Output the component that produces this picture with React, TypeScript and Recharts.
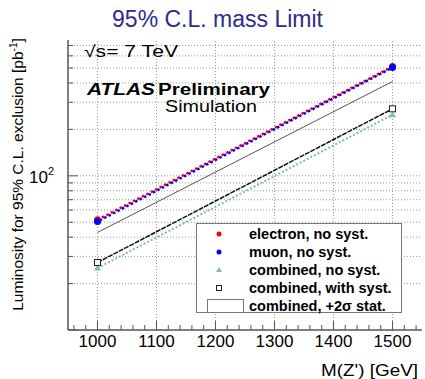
import React from 'react';
import { Legend, Line, LineChart, ReferenceLine, XAxis, YAxis } from 'recharts';

// Z' mass points [GeV]
const massPoints = [1000, 1500];
// luminosity for 95% C.L. exclusion [pb^-1]
const electronNoSyst = [51.8, 511];
const muonNoSyst = [50.5, 504];
const combinedNoSyst = [25.2, 249];
const combinedWithSyst = [27.4, 272];
const combinedTwoSigma = [42.9, 409];

const xTicks = [
  960, 980, 1000, 1020, 1040, 1060, 1080, 1100, 1120, 1140, 1160, 1180, 1200, 1220, 1240,
  1260, 1280, 1300, 1320, 1340, 1360, 1380, 1400, 1420, 1440, 1460, 1480, 1500, 1520, 1540,
];
const xLabels = [1000, 1100, 1200, 1300, 1400, 1500];
const yTicks = [10, 20, 30, 40, 50, 60, 70, 80, 90, 100, 200, 300, 400, 500, 600, 700];
const yGrid = [20, 30, 40, 50, 60, 70, 80, 90, 100, 200, 300, 400, 500, 600, 700];
const yMajor = [10, 100];
const legendOrder = ['electron', 'muon', 'combNoSyst', 'combSyst', 'twoSigma'];

const data = massPoints.map((m, i) => ({
  mass: m,
  electron: electronNoSyst[i],
  muon: muonNoSyst[i],
  combNoSyst: combinedNoSyst[i],
  combSyst: combinedWithSyst[i],
  twoSigma: combinedTwoSigma[i],
}));

const W = 425;
const H = 379;
const LEFT = 68;
const RIGHT = 422;
const TOP = 40;
const BOTTOM = 330;
const FONT = '"Liberation Sans", Arial, Helvetica, sans-serif';
const AXIS = '#555';
const GRID = '#9a9a9a';
const GREEN = '#7dbf9f';

const BottomTick = (props: any) => {
  const { x, payload } = props;
  const major = xLabels.includes(payload.value);
  return (
    <g>
      <line x1={x} x2={x} y1={BOTTOM} y2={BOTTOM - (major ? 9 : 5)} stroke={AXIS} strokeWidth={1} />
      {major && (
        <text x={x} y={347} textAnchor="middle" fontSize={17} fontFamily={FONT} fill="#000">
          {payload.value}
        </text>
      )}
    </g>
  );
};

const TopTick = (props: any) => {
  const { x, payload } = props;
  const major = xLabels.includes(payload.value);
  return <line x1={x} x2={x} y1={TOP} y2={TOP + (major ? 9 : 5)} stroke={AXIS} strokeWidth={1} />;
};

const LeftTick = (props: any) => {
  const { y, payload } = props;
  const major = yMajor.includes(payload.value);
  return (
    <g>
      <line x1={LEFT} x2={LEFT + (major ? 10 : 5)} y1={y} y2={y} stroke={AXIS} strokeWidth={1} />
      {payload.value === 100 && (
        <text x={54} y={y + 7} textAnchor="end" fontSize={17} fontFamily={FONT} fill="#000">
          10<tspan dy={-8} fontSize={11}>2</tspan>
        </text>
      )}
    </g>
  );
};

const RightTick = (props: any) => {
  const { y, payload } = props;
  const major = yMajor.includes(payload.value);
  return <line x1={RIGHT} x2={RIGHT - (major ? 10 : 5)} y1={y} y2={y} stroke={AXIS} strokeWidth={1} />;
};

const CircleDot = (color: string) => (props: any) => {
  const { cx, cy, index } = props;
  return <circle key={index} cx={cx} cy={cy} r={3.5} fill={color} />;
};

const TriangleDot = (props: any) => {
  const { cx, cy, index } = props;
  return <path key={index} d={`M${cx},${cy - 3.5} L${cx + 3.5},${cy + 2.5} L${cx - 3.5},${cy + 2.5} Z`} fill={GREEN} />;
};

const SquareDot = (props: any) => {
  const { cx, cy, index } = props;
  return <rect key={index} x={cx - 3} y={cy - 3} width={6} height={6} fill="#fff" stroke="#222" strokeWidth={1} />;
};

const legendMarker = (key: string) => {
  if (key === 'electron') return <circle cx={8} cy={8} r={2.5} fill="#ff0000" />;
  if (key === 'muon') return <circle cx={8} cy={8} r={2.5} fill="#0000ff" />;
  if (key === 'combNoSyst') return <path d="M8,5 L11,10 L5,10 Z" fill={GREEN} />;
  if (key === 'combSyst') return <rect x={5.5} y={5.5} width={5} height={5} fill="#fff" stroke="#222" />;
  return null;
};

const LegendBox = (props: any) => {
  const items = [...(props.payload || [])].sort(
    (a: any, b: any) => legendOrder.indexOf(a.dataKey) - legendOrder.indexOf(b.dataKey),
  );
  return (
    <div
      style={{
        width: 206,
        height: 90,
        boxSizing: 'border-box',
        border: '1px solid #777',
        background: '#fff',
        paddingTop: 1,
        fontFamily: FONT,
        fontWeight: 'bold',
        fontSize: 14.5,
      }}
    >
      {items.map((item: any) => (
        <div key={item.dataKey} style={{ height: 18, display: 'flex', alignItems: 'center' }}>
          <div style={{ width: 52, display: 'flex', justifyContent: 'center' }}>
            {item.dataKey === 'twoSigma' ? (
              <div style={{ width: 35, height: 12, border: '1px solid #777', marginLeft: 4 }} />
            ) : (
              <svg width={16} height={16} style={{ marginLeft: -8 }}>
                {legendMarker(item.dataKey)}
              </svg>
            )}
          </div>
          <span style={{ color: '#000', whiteSpace: 'nowrap' }}>{item.value}</span>
        </div>
      ))}
    </div>
  );
};

export default function App() {
  return (
    <div style={{ position: 'absolute', left: 0, top: 0, width: W, height: H, background: '#fff' }}>
      <LineChart width={W} height={H} data={data} margin={{ top: TOP, right: W - RIGHT, bottom: 0, left: 18 }}>
        <XAxis
          dataKey="mass"
          type="number"
          domain={[950, 1550]}
          allowDataOverflow
          ticks={xTicks}
          interval={0}
          tickLine={false}
          axisLine={{ stroke: AXIS, strokeWidth: 1.5 }}
          tick={<BottomTick />}
          height={H - BOTTOM}
        />
        <XAxis
          xAxisId="top"
          dataKey="mass"
          type="number"
          orientation="top"
          domain={[950, 1550]}
          allowDataOverflow
          ticks={xTicks}
          interval={0}
          tickLine={false}
          axisLine={{ stroke: AXIS, strokeWidth: 1.5 }}
          tick={<TopTick />}
          height={0}
        />
        <YAxis
          scale="log"
          domain={[10, 760]}
          allowDataOverflow
          ticks={yTicks}
          interval={0}
          tickLine={false}
          axisLine={{ stroke: AXIS, strokeWidth: 1.5 }}
          tick={<LeftTick />}
          width={LEFT - 18}
        />
        <YAxis
          yAxisId="right"
          orientation="right"
          scale="log"
          domain={[10, 760]}
          allowDataOverflow
          ticks={yTicks}
          interval={0}
          tickLine={false}
          axisLine={{ stroke: AXIS, strokeWidth: 1.5 }}
          tick={<RightTick />}
          width={0}
        />
        {xLabels.map((v) => (
          <ReferenceLine key={`gx${v}`} x={v} stroke={GRID} strokeDasharray="1 2" strokeWidth={1} />
        ))}
        {yGrid.map((v) => (
          <ReferenceLine key={`gy${v}`} y={v} stroke={GRID} strokeDasharray="1 2" strokeWidth={1} />
        ))}
        <Legend
          layout="horizontal"
          verticalAlign="middle"
          align="center"
          content={<LegendBox />}
          wrapperStyle={{ left: 196, top: 223, width: 206, height: 90 }}
        />
        <Line
          dataKey="electron"
          name="electron, no syst."
          stroke="#ff0000"
          strokeWidth={2.5}
          strokeDasharray="2.5 2.5"
          dot={CircleDot('#ff0000')}
          isAnimationActive={false}
        />
        <Line
          dataKey="muon"
          name="muon, no syst."
          stroke="#0000ff"
          strokeWidth={2.5}
          strokeDasharray="2.5 2.5"
          strokeDashoffset={2.5}
          dot={CircleDot('#0000ff')}
          isAnimationActive={false}
        />
        <Line
          dataKey="combNoSyst"
          name="combined, no syst."
          stroke={GREEN}
          strokeWidth={2}
          strokeDasharray="2 2"
          dot={TriangleDot}
          isAnimationActive={false}
        />
        <Line
          dataKey="combSyst"
          name="combined, with syst."
          stroke="#111"
          strokeWidth={1.5}
          strokeDasharray="5 1"
          dot={SquareDot}
          isAnimationActive={false}
        />
        <Line
          dataKey="twoSigma"
          name="combined, +2σ stat."
          stroke="#555"
          strokeWidth={1}
          dot={false}
          isAnimationActive={false}
        />
      </LineChart>
      <svg
        width={W}
        height={H}
        style={{ position: 'absolute', left: 0, top: 0, pointerEvents: 'none' }}
        fontFamily={FONT}
      >
        <text x={217.5} y={27} textAnchor="middle" fontSize={23} fill="#2c2c8c">
          95% C.L. mass Limit
        </text>
        <text
          transform="translate(23,174.5) rotate(-90)"
          textAnchor="middle"
          fontSize={15.5}
          fill="#000"
        >
          Luminosity for 95% C.L. exclusion [pb
          <tspan dy={-6} fontSize={10}>-1</tspan>
          <tspan dy={6}>]</tspan>
        </text>
        <text x={418} y={376} textAnchor="end" fontSize={16.5} fill="#000" textLength={97} lengthAdjust="spacingAndGlyphs">
          M(Z') [GeV]
        </text>
        <text x={84} y={57} fontSize={16.5} fill="#000" textLength={94} lengthAdjust="spacingAndGlyphs">
          √s= 7 TeV
        </text>
        <text x={87} y={95} fontSize={16} fontWeight="bold" fontStyle="italic" fill="#000" textLength={68} lengthAdjust="spacingAndGlyphs">
          ATLAS
        </text>
        <text x={158} y={95} fontSize={16} fontWeight="bold" fill="#000" textLength={112} lengthAdjust="spacingAndGlyphs">
          Preliminary
        </text>
        <text x={165} y={112} fontSize={16} fill="#000" textLength={92} lengthAdjust="spacingAndGlyphs">
          Simulation
        </text>
      </svg>
    </div>
  );
}
